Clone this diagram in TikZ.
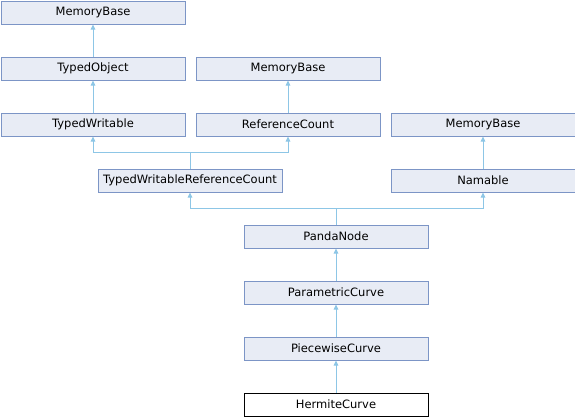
\documentclass[tikz,border=0pt]{standalone}
\usepackage{fontspec}
\setmainfont{DejaVu Sans}
\usetikzlibrary{arrows.meta}
\definecolor{boxfill}{HTML}{E8ECF5}
\definecolor{boxline}{HTML}{7C95C6}
\definecolor{edge}{HTML}{8DC6E6}
\begin{document}
\begin{tikzpicture}[x=1pt,y=-1pt,
  cls/.style={draw=boxline,fill=boxfill,line width=1pt,minimum width=184pt,minimum height=23pt,inner sep=0pt,font=\fontsize{11.5}{13}\selectfont,anchor=north west},
  cur/.style={cls,draw=black,fill=white},
  inh/.style={draw=edge,line width=1pt,-{Triangle[length=5pt,width=4.5pt]}}]
\useasboundingbox (0,0) rectangle (575,416);
\node[cls] (mb1) at (0.5,0.5) {MemoryBase};
\node[cls] (to) at (0.5,56.5) {TypedObject};
\node[cls] (mb2) at (195.5,56.5) {MemoryBase};
\node[cls] (tw) at (0.5,112.5) {TypedWritable};
\node[cls] (rc) at (195.5,112.5) {ReferenceCount};
\node[cls] (mb3) at (390.5,112.5) {MemoryBase};
\node[cls] (twrc) at (97.5,168.5) {TypedWritableReferenceCount};
\node[cls] (nm) at (390.5,168.5) {Namable};
\node[cls] (pn) at (243.5,224.5) {PandaNode};
\node[cls] (pc) at (243.5,280.5) {ParametricCurve};
\node[cls] (pw) at (243.5,336.5) {PiecewiseCurve};
\node[cur] (hc) at (243.5,392.5) {HermiteCurve};
\coordinate (j1) at (twrc.north |- 0,152.5);
\coordinate (j2) at (pn.north |- 0,208.5);
\draw[inh] (to.north) -- (mb1.south);
\draw[inh] (tw.north) -- (to.south);
\draw[inh] (rc.north) -- (mb2.south);
\draw[inh] (nm.north) -- (mb3.south);
\draw[inh] (twrc.north) -- (j1) -| (tw.south);
\draw[inh] (j1) -| (rc.south);
\draw[inh] (pn.north) -- (j2) -| (twrc.south);
\draw[inh] (j2) -| (nm.south);
\draw[inh] (pc.north) -- (pn.south);
\draw[inh] (pw.north) -- (pc.south);
\draw[inh] (hc.north) -- (pw.south);
\end{tikzpicture}
\end{document}
